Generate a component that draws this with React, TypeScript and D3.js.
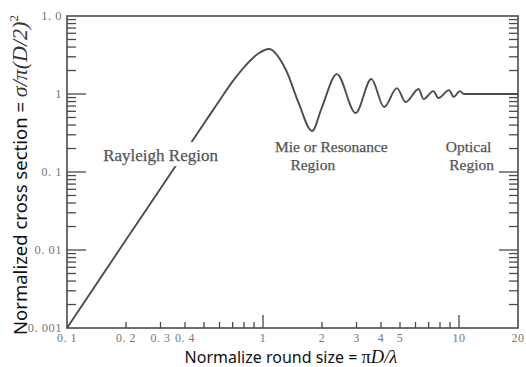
import React, { useEffect, useRef } from "react"
import * as d3 from "d3"

// normalized size (pi D / lambda) and normalized cross section
const sizeX = [0.1, 0.2, 0.3, 0.4, 0.5, 0.6, 0.7, 0.8, 0.955, 1.07, 1.31, 1.52, 1.78, 2.0, 2.38, 2.97, 3.57, 4.15, 4.82, 5.35, 6.22, 6.59, 7.4, 7.85, 8.9, 9.4, 10.1, 10.6, 20]
const crossY = [0.001, 0.0135, 0.0615, 0.181, 0.418, 0.827, 1.45, 2.2, 3.35, 3.78, 2.03, 0.767, 0.336, 0.68, 1.8, 0.57, 1.56, 0.68, 1.19, 0.79, 1.16, 0.86, 1.09, 0.89, 1.12, 0.92, 1.09, 1.0, 1.0]

const xTickValues = [0.1, 0.2, 0.3, 0.4, 1, 2, 3, 4, 5, 10, 20]
const xTickLabels = ["0. 1", "0. 2", "0. 3", "0. 4", "1", "2", "3", "4", "5", "10", "20"]
const yTickValues = [0.001, 0.01, 0.1, 1, 10]
const yTickLabels = ["0. 001", "0. 01", "0. 1", "1", "1. 0"]

// text lines placed at (x, y) in data units, left-aligned
const regionLines = [
  { text: "Rayleigh Region", x: 0.153, y: 0.138, size: 17, mask: true },
  { text: "Mie or Resonance", x: 1.15, y: 0.18, size: 15.5, mask: false },
  { text: "Region", x: 1.38, y: 0.106, size: 15.5, mask: false },
  { text: "Optical", x: 8.56, y: 0.18, size: 15.5, mask: false },
  { text: "Region", x: 8.92, y: 0.106, size: 15.5, mask: false },
]

const App = () => {
  const ref = useRef<SVGSVGElement>(null)

  useEffect(() => {
    const svg = d3.select(ref.current)
    svg.selectAll("*").remove()

    const x = d3.scaleLog().domain([0.1, 20]).range([67, 518])
    const y = d3.scaleLog().domain([0.001, 10]).range([328, 16])
    const frame = "#4a4a4a"
    const serif = "'Liberation Serif', 'Times New Roman', serif"
    const sans = "'Noto Sans', 'Open Sans', sans-serif"

    const minorY = yTickValues.slice(0, -1).flatMap((d) => d3.range(2, 10).map((k) => k * d))
    const minorX = [0.1, 1].flatMap((d) => d3.range(2, 10).map((k) => k * d))
    const majorX = [1, 10]
    const majorY = yTickValues.slice(1, -1)

    // curve
    const line = d3
      .line<number>()
      .x((_, i) => x(sizeX[i]))
      .y((d) => y(d))
      .curve(d3.curveMonotoneX)

    svg
      .append("path")
      .attr("d", line(crossY))
      .attr("fill", "none")
      .attr("stroke", "#4d4d4d")
      .attr("stroke-width", 1.9)

    // ticks on left and right
    const yTicks = svg.append("g").attr("stroke", frame).attr("stroke-width", 1.3)
    ;[
      { x0: x(0.1), dir: 1 },
      { x0: x(20), dir: -1 },
    ].forEach((side) => {
      yTicks
        .selectAll(null)
        .data(minorY)
        .join("line")
        .attr("x1", side.x0)
        .attr("x2", side.x0 + side.dir * 9)
        .attr("y1", (d) => y(d))
        .attr("y2", (d) => y(d))
      yTicks
        .selectAll(null)
        .data(majorY)
        .join("line")
        .attr("x1", side.x0)
        .attr("x2", side.x0 + side.dir * 19)
        .attr("y1", (d) => y(d))
        .attr("y2", (d) => y(d))
    })

    const xTicks = svg.append("g").attr("stroke", frame).attr("stroke-width", 1.3)
    xTicks
      .selectAll(null)
      .data(minorX)
      .join("line")
      .attr("x1", (d) => x(d))
      .attr("x2", (d) => x(d))
      .attr("y1", y(0.001))
      .attr("y2", y(0.001) - 6)
    xTicks
      .selectAll(null)
      .data(majorX)
      .join("line")
      .attr("x1", (d) => x(d))
      .attr("x2", (d) => x(d))
      .attr("y1", y(0.001))
      .attr("y2", y(0.001) - 13)

    // frame
    svg
      .append("rect")
      .attr("x", x(0.1))
      .attr("y", y(10))
      .attr("width", x(20) - x(0.1))
      .attr("height", y(0.001) - y(10))
      .attr("fill", "none")
      .attr("stroke", frame)
      .attr("stroke-width", 1.6)

    // tick labels
    svg
      .append("g")
      .selectAll("text")
      .data(xTickValues)
      .join("text")
      .attr("x", (d) => x(d))
      .attr("y", 342)
      .attr("text-anchor", "middle")
      .attr("font-family", serif)
      .attr("font-size", 12)
      .attr("letter-spacing", 0.5)
      .attr("fill", "#777")
      .text((_, i) => xTickLabels[i])

    svg
      .append("g")
      .selectAll("text")
      .data(yTickValues)
      .join("text")
      .attr("x", 62)
      .attr("y", (d) => y(d) + 4)
      .attr("text-anchor", "end")
      .attr("font-family", serif)
      .attr("font-size", 12.5)
      .attr("letter-spacing", 0.5)
      .attr("fill", "#777")
      .text((_, i) => yTickLabels[i])

    // region labels
    regionLines.forEach((r) => {
      const g = svg.append("g")
      const t = g
        .append("text")
        .attr("x", x(r.x))
        .attr("y", y(r.y))
        .attr("font-family", serif)
        .attr("font-size", r.size)
        .attr("fill", "#555")
        .attr("stroke", "#555")
        .attr("stroke-width", 0.25)
        .text(r.text)
      if (r.mask) {
        const b = (t.node() as SVGTextElement).getBBox()
        g.insert("rect", "text")
          .attr("x", b.x - 2)
          .attr("y", b.y - 4)
          .attr("width", b.width + 4)
          .attr("height", b.height + 5)
          .attr("fill", "#fff")
      }
    })

    // axis titles
    const xt = svg
      .append("text")
      .attr("x", 291)
      .attr("y", 363)
      .attr("text-anchor", "middle")
      .attr("font-family", sans)
      .attr("font-size", 16)
      .attr("fill", "#111")
    xt.append("tspan").text("Normalize round size = ")
    xt.append("tspan").attr("font-family", serif).attr("font-size", 18.5).text("\u03c0")
    xt.append("tspan").attr("font-family", serif).attr("font-size", 18.5).attr("font-style", "italic").text("D/\u03bb")

    const yt = svg
      .append("text")
      .attr("transform", "translate(27,175) rotate(-90)")
      .attr("text-anchor", "middle")
      .attr("font-family", sans)
      .attr("font-size", 18.5)
      .attr("fill", "#111")
    yt.append("tspan").text("Normalized cross section = ")
    yt.append("tspan").attr("font-family", serif).attr("font-size", 22).attr("font-style", "italic").attr("fill", "#333").text("\u03c3/\u03c0(D/2)")
    yt.append("tspan").attr("font-family", serif).attr("font-size", 13).attr("dy", -9).attr("fill", "#333").text("2")
  }, [])

  return (
    <svg
      ref={ref}
      width={526}
      height={367}
      style={{ position: "absolute", left: 0, top: 0, background: "#fff" }}
    />
  )
}

export default App
